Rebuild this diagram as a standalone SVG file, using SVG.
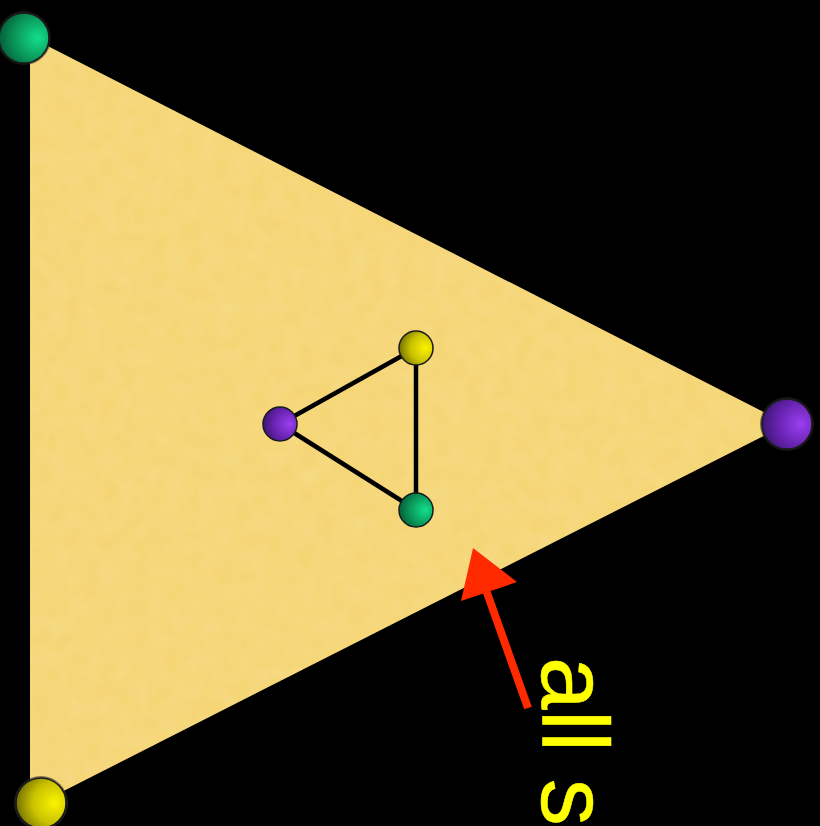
<svg xmlns="http://www.w3.org/2000/svg" width="820" height="826" viewBox="0 0 820 826">
<defs>
<radialGradient id="gGreen" cx="0.72" cy="0.5" r="0.75" fx="0.78" fy="0.5">
<stop offset="0" stop-color="#12e08a"/><stop offset="0.55" stop-color="#0a9a5c"/><stop offset="1" stop-color="#045a36"/>
</radialGradient>
<radialGradient id="gPurple" cx="0.72" cy="0.5" r="0.75" fx="0.78" fy="0.5">
<stop offset="0" stop-color="#9a3ff0"/><stop offset="0.55" stop-color="#6a24b4"/><stop offset="1" stop-color="#3a1470"/>
</radialGradient>
<radialGradient id="gYellow" cx="0.72" cy="0.5" r="0.75" fx="0.78" fy="0.5">
<stop offset="0" stop-color="#fbf400"/><stop offset="0.55" stop-color="#c9c200"/><stop offset="1" stop-color="#6e6a00"/>
</radialGradient>
<filter id="tex" x="0" y="0" width="1" height="1">
<feTurbulence type="fractalNoise" baseFrequency="0.06" numOctaves="3" seed="4" result="n"/>
<feColorMatrix in="n" type="matrix" values="0 0 0 0 0.93  0 0 0 0 0.78  0 0 0 0 0.35  0 0 0 0.4 0" result="c"/>
<feComposite in="c" in2="SourceGraphic" operator="in" result="cc"/>
<feMerge><feMergeNode in="SourceGraphic"/><feMergeNode in="cc"/></feMerge>
</filter>
<style>
.ball{stroke:#1a1a1a;stroke-width:1.5}
.edge{stroke:#000;stroke-width:4.5;fill:none}
.lbl{font-family:"Liberation Sans","DejaVu Sans",sans-serif;font-size:95px;fill:#ffff00;stroke:#ffff00;stroke-width:0.5;stroke-linejoin:round}
</style>
</defs>
<rect width="820" height="826" fill="#000"/>
<g id="big-triangle">
<polygon points="30,37 787,424 30,808" fill="#f5d46f" filter="url(#tex)"/>
</g>
<g id="connectors">
<line class="edge" x1="280" y1="424" x2="416" y2="348"/>
<line class="edge" x1="416" y1="348" x2="416" y2="510"/>
<line class="edge" x1="280" y1="424" x2="416" y2="510"/>
<g id="arrow">
<line x1="528" y1="708" x2="486" y2="590" stroke="#ff2a00" stroke-width="8"/>
<polygon points="473,548 517,582 461,601" fill="#ff2a00"/>
</g>
</g>
<g id="node-corner-green"><circle cx="24" cy="38" r="27" fill="#222" opacity="0.6"/><circle class="ball" cx="24" cy="38" r="25" fill="url(#gGreen)"/></g>
<g id="node-corner-purple"><circle cx="787" cy="424" r="27" fill="#222" opacity="0.6"/><circle class="ball" cx="787" cy="424" r="25" fill="url(#gPurple)"/></g>
<g id="node-corner-yellow"><circle cx="41" cy="803" r="27" fill="#333" opacity="0.6"/><circle class="ball" cx="41" cy="803" r="25" fill="url(#gYellow)"/></g>
<g id="node-small-yellow"><circle class="ball" cx="416" cy="348" r="17" fill="url(#gYellow)"/></g>
<g id="node-small-purple"><circle class="ball" cx="280" cy="424" r="17" fill="url(#gPurple)"/></g>
<g id="node-small-green"><circle class="ball" cx="416" cy="510" r="17" fill="url(#gGreen)"/></g>
<g id="label">
<text class="lbl" x="657" y="-542" transform="rotate(90)">all s</text>
</g>
</svg>
